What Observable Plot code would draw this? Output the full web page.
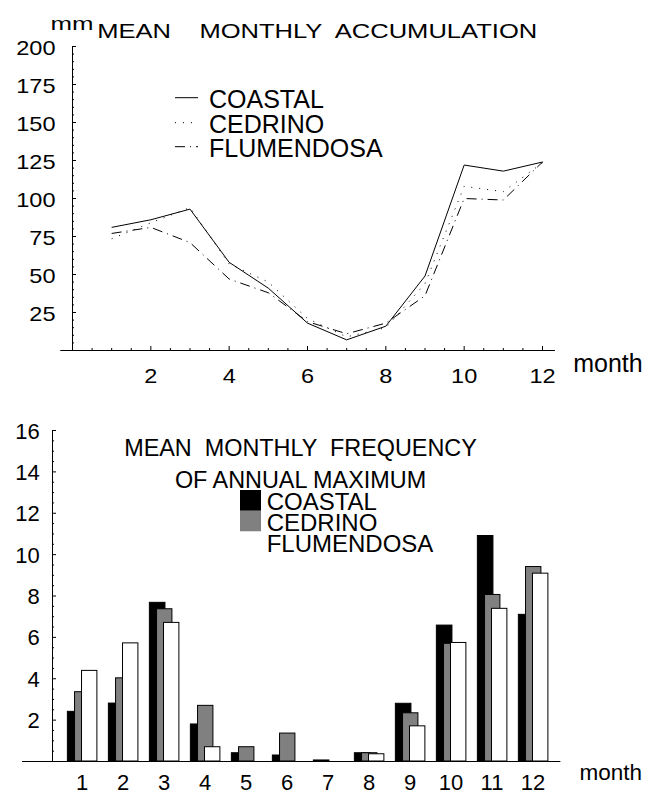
<!DOCTYPE html>
<html><head><meta charset="utf-8">
<script src="https://cdn.jsdelivr.net/npm/d3@7"></script>
<script src="https://cdn.jsdelivr.net/npm/@observablehq/plot@0.6"></script>
<style>
body{margin:0;background:#fff;}
#wrap{position:relative;width:657px;height:795px;background:#fff;}
#wrap svg{display:block;}
svg text{white-space:pre;}
</style></head><body><div id="wrap"></div>
<script>
// ---- data ----
const months = [1,2,3,4,5,6,7,8,9,10,11,12];
const seriesNames = ["COASTAL","CEDRINO","FLUMENDOSA"];
const accCoastal    = [81, 86, 93, 58, 41, 18, 7, 16, 49, 122, 118, 124];
const accCedrino    = [73.5, 84, 94, 57, 45, 21, 9, 15, 44, 108, 104.5, 123.5];
const accFlumendosa = [77, 81, 71, 47, 38, 19, 11, 18, 36, 100, 99, 124];
const freqCoastal    = [2.4, 2.8, 7.67, 1.79, 0.4, 0.29, 0.05, 0.4, 2.79, 6.57, 10.9, 7.09];
const freqCedrino    = [3.35, 4.02, 7.36, 2.69, 0.69, 1.35, 0, 0.4, 2.33, 5.69, 8.05, 9.4];
const freqFlumendosa = [4.38, 5.71, 6.7, 0.69, 0, 0, 0, 0.35, 1.7, 5.73, 7.38, 9.08];
const yTickLabelsTop = [25,50,75,100,125,150,175,200];
const xTickLabelsTop = [2,4,6,8,10,12];
const yTickLabelsBottom = [2,4,6,8,10,12,14,16];
const titleTop = "MEAN    MONTHLY  ACCUMULATION";
const unitTop = "mm";
const titleBottom1 = "MEAN  MONTHLY  FREQUENCY";
const titleBottom2 = "OF ANNUAL MAXIMUM";
const xLabel = "month";

// ---- tables ----
const rows = (vals, s) => months.map((m, i) => ({month: m, value: vals[i], series: s}));
const accData = [...rows(accCoastal, seriesNames[0]), ...rows(accCedrino, seriesNames[1]), ...rows(accFlumendosa, seriesNames[2])];
const freqData = [...rows(freqCoastal, seriesNames[0]), ...rows(freqCedrino, seriesNames[1]), ...rows(freqFlumendosa, seriesNames[2])];

const dashes = {COASTAL: null, CEDRINO: "1,7", FLUMENDOSA: "10,5,1,5"};
const barFill = {COASTAL: "black", CEDRINO: "#808080", FLUMENDOSA: "white"};
const barOffset = {COASTAL: [-0.345, 0.035], CEDRINO: [-0.17, 0.205], FLUMENDOSA: [0, 0.375]};
const FONT = "'Liberation Sans', Arial, Helvetica, sans-serif";

const wrap = document.getElementById("wrap");

// ---- top chart ----
const yMinorTop = d3.range(5, 200, 5).filter(v => v % 25 !== 0);
const xMinorTop = d3.range(0.5, 12.01, 0.5).filter(v => v % 2 !== 0);

const topPlot = Plot.plot({
  width: 657, height: 400,
  marginLeft: 72, marginRight: 115, marginTop: 46, marginBottom: 50,
  x: {domain: [0, 12]},
  y: {domain: [0, 200]},
  style: {fontFamily: FONT, fontSize: "21px", color: "black", background: "white", overflow: "visible"},
  marks: [
    Plot.ruleX([0], {y1: 0, y2: 200, stroke: "black"}),
    Plot.ruleY([0], {x1: -0.3, x2: 12.33, stroke: "black"}),
    Plot.ruleY(yMinorTop, {y: d => d, x1: 0, x2: 0, insetRight: -2, stroke: "black"}),
    Plot.ruleY(yTickLabelsTop, {y: d => d, x1: 0, x2: 0, insetRight: -4, stroke: "black"}),
    Plot.ruleX(xMinorTop, {x: d => d, y1: 0, y2: 0, insetTop: -2, stroke: "black"}),
    Plot.ruleX(xTickLabelsTop, {x: d => d, y1: 0, y2: 0, insetTop: -4, stroke: "black"}),
    Plot.axisY(yTickLabelsTop, {tickSize: 0, tickPadding: 17, dy: 2, label: null, fontSize: 21}),
    Plot.axisX(xTickLabelsTop, {tickSize: 0, tickPadding: 18, label: null, fontSize: 21}),
    ...seriesNames.map(s => Plot.line(accData.filter(d => d.series === s), {
      x: "month", y: "value", stroke: "black", strokeWidth: 1,
      strokeDasharray: dashes[s], strokeLinecap: "butt"
    })),
    Plot.text([unitTop], {text: d => d, frameAnchor: "top-left", dx: -22, dy: -29, textAnchor: "start", fontSize: 18}),
    Plot.text([titleTop], {text: d => d, frameAnchor: "top-left", dx: 24.7, dy: -23, textAnchor: "start", fontSize: 20}),
    Plot.text([xLabel], {text: d => d, frameAnchor: "top-left", dx: 500.7, dy: 307.5, textAnchor: "start", fontSize: 25})
  ]
});
wrap.appendChild(topPlot);

// ---- bottom chart ----
const yAxisX = 0.28;
const yMinorBottom = d3.range(0.5, 16, 0.5).filter(v => v % 2 !== 0);

const bottomPlot = Plot.plot({
  width: 657, height: 395,
  marginLeft: 52, marginRight: 83.5, marginTop: 30, marginBottom: 34,
  x: {domain: [yAxisX, 13]},
  y: {domain: [0, 16]},
  style: {fontFamily: FONT, fontSize: "22px", color: "black", background: "white", overflow: "visible"},
  marks: [
    ...seriesNames.map(s => Plot.rect(freqData.filter(d => d.series === s), {
      x1: d => d.month + barOffset[s][0], x2: d => d.month + barOffset[s][1],
      y1: 0, y2: "value", fill: barFill[s], stroke: "black", strokeWidth: 1
    })),
    Plot.ruleX([yAxisX], {y1: 0, y2: 16, stroke: "black"}),
    Plot.ruleY([0], {x1: -0.45, x2: 12.68, stroke: "black"}),
    Plot.ruleY(yMinorBottom, {y: d => d, x1: yAxisX, x2: yAxisX, insetRight: -2, stroke: "black"}),
    Plot.ruleY(yTickLabelsBottom, {y: d => d, x1: yAxisX, x2: yAxisX, insetRight: -4, stroke: "black"}),
    Plot.axisY(yTickLabelsBottom, {tickSize: 0, tickPadding: 12.7, dy: 1, label: null, fontSize: 22}),
    Plot.axisX(months, {tickSize: 0, tickPadding: 13, label: null, fontSize: 22}),
    Plot.text([titleBottom1], {text: d => d, frameAnchor: "top-left", dx: 248, dy: 9.3, textAnchor: "middle", fontSize: 23.4}),
    Plot.text([titleBottom2], {text: d => d, frameAnchor: "top-left", dx: 248, dy: 40.9, textAnchor: "middle", fontSize: 23.4}),
    Plot.text([xLabel], {text: d => d, frameAnchor: "top-left", dx: 527, dy: 333.5, textAnchor: "start", fontSize: 22.5})
  ]
});
wrap.appendChild(bottomPlot);

// ---- horizontal stretch of top chart text (as in the original artwork) ----
topPlot.querySelectorAll('g[aria-label$="tick label"] text').forEach(t => {
  const w = t.getComputedTextLength();
  t.setAttribute("textLength", w * 1.12);
  t.setAttribute("lengthAdjust", "spacingAndGlyphs");
});
topPlot.querySelectorAll("text").forEach(t => {
  if (t.textContent === titleTop) { t.setAttribute("textLength", 440); t.setAttribute("lengthAdjust", "spacingAndGlyphs"); }
  if (t.textContent === unitTop) { t.setAttribute("textLength", 43); t.setAttribute("lengthAdjust", "spacingAndGlyphs"); }
});

// ---- legends (overlay) ----
const ov = d3.select(wrap).append("svg")
  .attr("width", 657).attr("height", 795)
  .style("position", "absolute").style("left", "0px").style("top", "0px")
  .style("pointer-events", "none")
  .attr("font-family", FONT);

const topLegY = [97.7, 122.7, 146.7];
const topLegBase = [108.3, 133, 156.7];
seriesNames.forEach((s, i) => {
  ov.append("line").attr("x1", 175).attr("x2", 198).attr("y1", topLegY[i]).attr("y2", topLegY[i])
    .attr("stroke", "black").attr("stroke-width", 1).attr("stroke-dasharray", dashes[s]);
  ov.append("text").attr("x", 209).attr("y", topLegBase[i]).attr("font-size", 25).text(s);
});

const botLegTop = [490, 510.7, 531.5];
const botLegBase = [509.5, 530.5, 551.7];
seriesNames.forEach((s, i) => {
  ov.append("rect").attr("x", 240).attr("y", botLegTop[i]).attr("width", 21).attr("height", 20.8)
    .attr("fill", barFill[s]);
  ov.append("text").attr("x", 266.7).attr("y", botLegBase[i]).attr("font-size", 24).text(s);
});
</script></body></html>
